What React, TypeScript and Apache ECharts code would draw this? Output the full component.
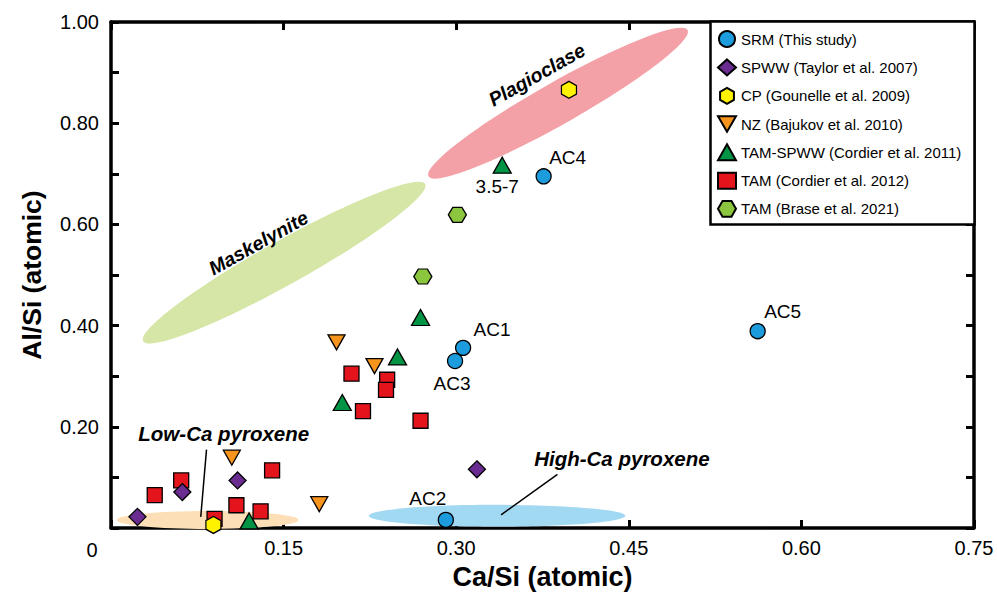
import React, { useEffect, useRef } from 'react';
import * as echarts from 'echarts';

const FONT = '"Liberation Sans", Arial, Helvetica, sans-serif';

// Sample data: Ca/Si vs Al/Si (atomic ratios)
const srmNames = ['AC1', 'AC2', 'AC3', 'AC4', 'AC5'];
const srmCaSi = [0.306, 0.291, 0.299, 0.376, 0.562];
const srmAlSi = [0.356, 0.016, 0.330, 0.695, 0.389];

const spwwTaylor = [[0.023, 0.022], [0.062, 0.071], [0.110, 0.094], [0.318, 0.116]];
const cpGounelle = [[0.398, 0.866], [0.089, 0.006]];
const nzBajukov = [[0.105, 0.139], [0.181, 0.047], [0.196, 0.367], [0.229, 0.320]];
const tamSpwwCordier = [[0.340, 0.717], [0.269, 0.416], [0.249, 0.338], [0.201, 0.248], [0.120, 0.014]];
const tamSpwwLabels = ['3.5-7', '', '', '', ''];
const tamCordier = [
  [0.209, 0.305], [0.240, 0.293], [0.239, 0.273], [0.219, 0.231], [0.269, 0.212],
  [0.038, 0.065], [0.061, 0.094], [0.140, 0.114], [0.109, 0.045], [0.130, 0.033], [0.090, 0.018],
];
const tamBrase = [[0.301, 0.619], [0.271, 0.497]];

const seriesNames = [
  'SRM (This study)',
  'SPWW (Taylor et al. 2007)',
  'CP (Gounelle et al. 2009)',
  'NZ (Bajukov et al. 2010)',
  'TAM-SPWW (Cordier et al. 2011)',
  'TAM (Cordier et al. 2012)',
  'TAM (Brase et al. 2021)',
];

// Axis ranges
const xMin = 0, xMax = 0.75, xStep = 0.15;
const yMin = 0, yMax = 1.0, yStep = 0.1;

// Mineral fields: long-axis end points [x1, y1, x2, y2] in data units
const fieldNames = ['Plagioclase', 'Maskelynite', 'Low-Ca pyroxene', 'High-Ca pyroxene'];
const fieldEnds = [
  [0.276, 0.695, 0.501, 0.984],
  [0.028, 0.369, 0.273, 0.680],
  [0.005, 0.016, 0.163, 0.016],
  [0.224, 0.024, 0.447, 0.024],
];
const fieldLabelAt = [[0.370, 0.896], [0.128, 0.564], [0.098, 0.187], [0.444, 0.138]];
// Leader lines from labels to fields (only the pyroxenes have one)
const fieldLeaders: (number[][] | null)[] = [
  null,
  null,
  [[0.083, 0.155], [0.078, 0.022]],
  [[0.388, 0.106], [0.339, 0.026]],
];

// Field styling
const fieldColors = ['#F3A0A6', '#D5E6A7', '#FCDFB6', '#A2D9F2'];
const fieldHalfWidth = [21, 22, 9, 11];
const fieldRotated = [true, true, false, false];
const fieldFontSize = [19.5, 19.5, 20.5, 20.5];

const srmLabelOffset: Record<string, number[]> = {
  AC1: [29, -18],
  AC2: [-18, -21],
  AC3: [-3, 22],
  AC4: [24, -19],
  AC5: [25, -20],
};

const HEX_POINTY = 'path://M0,-1L0.866,-0.5L0.866,0.5L0,1L-0.866,0.5L-0.866,-0.5Z';
const HEX_FLAT = 'path://M-1,0L-0.5,-0.866L0.5,-0.866L1,0L0.5,0.866L-0.5,0.866Z';
const TRI_DOWN = 'path://M0,0L10,0L5,8.7Z';

const markerStyle = (color: string) => ({
  color,
  borderColor: '#000',
  borderWidth: 1.3,
  opacity: 1,
});

export default function App() {
  const ref = useRef<HTMLDivElement>(null);

  useEffect(() => {
    if (!ref.current) return;
    const chart = echarts.init(ref.current, undefined, { renderer: 'svg' });

    const fieldData = fieldEnds.map((e, i) => [...e, i]);

    const renderField = (params: any, api: any) => {
      const i = params.dataIndex;
      const p1 = api.coord([api.value(0), api.value(1)]);
      const p2 = api.coord([api.value(2), api.value(3)]);
      const cx = (p1[0] + p2[0]) / 2;
      const cy = (p1[1] + p2[1]) / 2;
      const dx = p2[0] - p1[0];
      const dy = p1[1] - p2[1];
      const len = Math.sqrt(dx * dx + dy * dy);
      const angle = Math.atan2(dy, dx);
      const children: any[] = [
        {
          type: 'ellipse',
          x: cx,
          y: cy,
          rotation: angle,
          shape: { cx: 0, cy: 0, rx: len / 2, ry: fieldHalfWidth[i] },
          style: { fill: fieldColors[i] },
          z2: 0,
        },
      ];
      const lp = api.coord(fieldLabelAt[i]);
      children.push({
        type: 'text',
        x: lp[0],
        y: lp[1],
        rotation: fieldRotated[i] ? angle : 0,
        style: {
          text: fieldNames[i],
          fontFamily: FONT,
          fontSize: fieldFontSize[i],
          fontStyle: 'italic',
          fontWeight: 'bold',
          fill: '#000',
          align: 'center',
          verticalAlign: 'middle',
        },
        z2: 2,
      });
      const leader = fieldLeaders[i];
      if (leader) {
        const a = api.coord(leader[0]);
        const b = api.coord(leader[1]);
        children.push({
          type: 'line',
          shape: { x1: a[0], y1: a[1], x2: b[0], y2: b[1] },
          style: { stroke: '#000', lineWidth: 1.5 },
          z2: 1,
        });
      }
      return { type: 'group', children };
    };

    const axisCommon = {
      axisLine: { show: true, onZero: false, lineStyle: { color: '#000', width: 3.5 } },
      axisTick: { show: true, inside: true, length: 8, lineStyle: { color: '#000', width: 3 } },
      splitLine: { show: false },
    };

    const pointLabel = {
      show: true,
      position: 'inside',
      formatter: '{b}',
      fontFamily: FONT,
      fontSize: 19,
      color: '#000',
      opacity: 1,
    };

    const option: any = {
      animation: false,
      backgroundColor: '#fff',
      grid: { left: 111, right: 23, top: 22, bottom: 64, containLabel: false },
      xAxis: [
        {
          type: 'value',
          min: xMin,
          max: xMax,
          interval: xStep,
          position: 'bottom',
          ...axisCommon,
          axisLabel: {
            formatter: (v: number) => (v === 0 ? '' : v.toFixed(2)),
            fontFamily: FONT,
            fontSize: 20,
            color: '#000',
            margin: 10,
            showMaxLabel: true,
          },
          name: 'Ca/Si (atomic)',
          nameLocation: 'middle',
          nameGap: 35,
          nameTextStyle: { fontFamily: FONT, fontSize: 27, fontWeight: 'bold', color: '#000' },
        },
        {
          type: 'value',
          min: xMin,
          max: xMax,
          interval: xStep,
          position: 'top',
          ...axisCommon,
          axisLabel: { show: false },
        },
      ],
      yAxis: [
        {
          type: 'value',
          min: yMin,
          max: yMax,
          interval: yStep,
          position: 'left',
          ...axisCommon,
          axisLabel: {
            formatter: (v: number) => {
              const k = Math.round(v * 10);
              return k === 0 || k % 2 ? '' : v.toFixed(2);
            },
            fontFamily: FONT,
            fontSize: 20,
            color: '#000',
            margin: 12,
          },
          name: 'Al/Si (atomic)',
          nameLocation: 'middle',
          nameGap: 66,
          nameTextStyle: { fontFamily: FONT, fontSize: 26.5, fontWeight: 'bold', color: '#000' },
        },
        {
          type: 'value',
          min: yMin,
          max: yMax,
          interval: yStep,
          position: 'right',
          ...axisCommon,
          axisLabel: { show: false },
        },
      ],
      legend: {
        data: seriesNames,
        orient: 'vertical',
        left: 717,
        top: 30,
        itemWidth: 18,
        itemHeight: 16,
        itemGap: 10.4,
        padding: 0,
        selectedMode: false,
        z: 10,
        textStyle: { fontFamily: FONT, fontSize: 15, color: '#000' },
      },
      graphic: [
        {
          type: 'rect',
          z: 5,
          shape: { x: 710.5, y: 21.5, width: 264, height: 203 },
          style: { fill: '#fff', stroke: '#000', lineWidth: 2.5 },
        },
        {
          type: 'text',
          z: 5,
          x: 92,
          y: 550,
          style: {
            text: '0',
            fontFamily: FONT,
            fontSize: 20,
            fill: '#000',
            align: 'center',
            verticalAlign: 'middle',
          },
        },
      ],
      series: [
        {
          type: 'custom',
          name: 'fields',
          data: fieldData,
          renderItem: renderField,
          encode: { x: [0, 2], y: [1, 3] },
          silent: true,
          z: 1,
          clip: false,
        },
        {
          type: 'scatter',
          name: seriesNames[0],
          symbol: 'circle',
          symbolSize: 15,
          itemStyle: markerStyle('#1C9CDD'),
          z: 4,
          label: pointLabel,
          data: srmCaSi.map((x, i) => ({
            name: srmNames[i],
            value: [x, srmAlSi[i]],
            label: { offset: srmLabelOffset[srmNames[i]] },
          })),
        },
        {
          type: 'scatter',
          name: seriesNames[1],
          symbol: 'diamond',
          symbolSize: 17,
          itemStyle: markerStyle('#6A2C91'),
          z: 3,
          data: spwwTaylor,
        },
        {
          type: 'scatter',
          name: seriesNames[2],
          symbol: HEX_POINTY,
          symbolSize: [15, 17],
          itemStyle: markerStyle('#FFF200'),
          z: 3,
          data: cpGounelle,
        },
        {
          type: 'scatter',
          name: seriesNames[3],
          symbol: TRI_DOWN,
          symbolSize: [17, 15],
          itemStyle: markerStyle('#F7941E'),
          z: 3,
          data: nzBajukov,
        },
        {
          type: 'scatter',
          name: seriesNames[4],
          symbol: 'triangle',
          symbolSize: [18, 16],
          itemStyle: markerStyle('#009444'),
          z: 3,
          label: { ...pointLabel, offset: [-5, 21] },
          data: tamSpwwCordier.map((v, i) => ({ name: tamSpwwLabels[i], value: v })),
        },
        {
          type: 'scatter',
          name: seriesNames[5],
          symbol: 'rect',
          symbolSize: 15,
          itemStyle: markerStyle('#E3141B'),
          z: 2,
          data: tamCordier,
        },
        {
          type: 'scatter',
          name: seriesNames[6],
          symbol: HEX_FLAT,
          symbolSize: [18, 15],
          itemStyle: markerStyle('#8CC63F'),
          z: 3,
          data: tamBrase,
        },
      ],
    };

    chart.setOption(option);
    return () => chart.dispose();
  }, []);

  return (
    <div
      ref={ref}
      style={{ position: 'fixed', left: 0, top: 0, width: 997, height: 595, background: '#fff' }}
    />
  );
}
